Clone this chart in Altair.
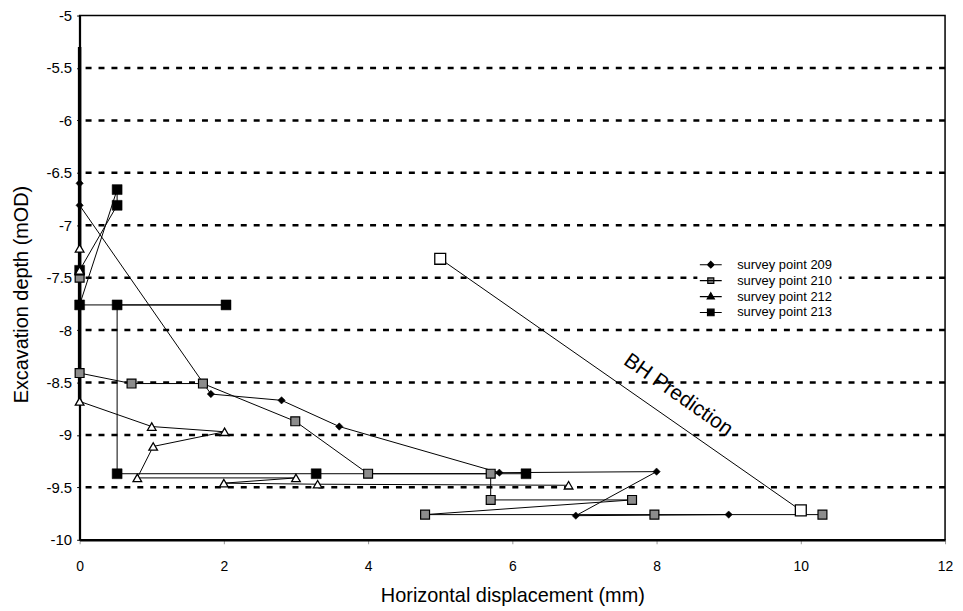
import altair as alt
import pandas as pd

FONT = "Liberation Sans"

names = ["survey point 209", "survey point 210", "survey point 212", "survey point 213"]

# survey point 209 (filled diamonds)
s209_x = [0, 0, 1.82, 2.8, 3.6, 5.82, 8.0, 6.88, 9.0]
s209_y = [-6.6, -6.81, -8.61, -8.67, -8.92, -9.36, -9.35, -9.77, -9.76]

# survey point 210 (hatched squares)
s210_x = [0, 0, 0.72, 1.71, 2.99, 4.0, 5.7, 5.7, 7.66, 4.79, 7.97, 10.3]
s210_y = [-7.5, -8.41, -8.51, -8.51, -8.87, -9.37, -9.37, -9.62, -9.62, -9.76, -9.76, -9.76]

# survey point 212 (open triangles)
s212_x = [0, 0, 0, 1.0, 2.01, 1.02, 0.8, 3.0, 2.0, 3.3, 6.78]
s212_y = [-7.22, -7.43, -8.68, -8.92, -8.97, -9.11, -9.41, -9.41, -9.46, -9.47, -9.48]

# survey point 213 (filled squares)
s213_x = [0, 0.52, 0.52, 0, 2.03, 0.52, 0.52, 3.28, 6.19]
s213_y = [-7.43, -6.81, -6.66, -7.76, -7.76, -7.76, -9.37, -9.37, -9.37]

# BH prediction
bh_x = [5.0, 10.0]
bh_y = [-7.32, -9.72]
bh_label = "BH Prediction"
bh_label_x = 8.3
bh_label_y = -8.62

# readings lying on the zero-displacement axis
zero_trace_y = [-5.3, -8.7]

grid_levels = [-5.5, -6, -6.5, -7, -7.5, -8, -8.5, -9, -9.5]
y_ticks = [-5, -5.5, -6, -6.5, -7, -7.5, -8, -8.5, -9, -9.5, -10]
x_ticks = [0, 2, 4, 6, 8, 10, 12]

rows = []
for name, xs_, ys_ in [
    ("survey point 209", s209_x, s209_y),
    ("survey point 210", s210_x, s210_y),
    ("survey point 212", s212_x, s212_y),
    ("survey point 213", s213_x, s213_y),
    ("BH", bh_x, bh_y),
]:
    for i, (xv, yv) in enumerate(zip(xs_, ys_)):
        rows.append({"series": name, "i": i, "x": xv, "y": yv})
df = pd.DataFrame(rows)

xs = alt.Scale(domain=[0, 12], nice=False, zero=False)
ys = alt.Scale(domain=[-10, -5], nice=False, zero=False)

X = alt.X("x:Q", scale=xs, axis=alt.Axis(
    values=x_ticks, format="d", title="Horizontal displacement (mm)", grid=False,
    labelFontSize=14, labelFont=FONT, labelColor="black", labelFlush=False,
    labelPadding=16, tickSize=4, tickColor="#999", domainColor="black", domainWidth=2.5,
    titleFont=FONT, titleFontSize=20, titleFontWeight="normal", titleColor="black",
    titleY=56, titleBaseline="middle"))
Y = alt.Y("y:Q", scale=ys, axis=alt.Axis(
    values=y_ticks, title="Excavation depth (mOD)", grid=False,
    labelExpr="datum.value < 0 ? '-' + format(-datum.value, '~g') : format(datum.value, '~g')",
    labelFontSize=15, labelFont=FONT, labelColor="black", labelFlush=False,
    labelPadding=5, tickSize=3, tickColor="black", domainColor="black", domainWidth=2,
    titleFont=FONT, titleFontSize=20, titleFontWeight="normal", titleColor="black",
    titleAngle=270, titleX=-58, titleY=280, titleBaseline="middle"))

base = alt.Chart(df)

grid = alt.Chart(pd.DataFrame({"y": grid_levels})).mark_rule(
    color="black", strokeWidth=2.5, strokeDash=[6, 7]
).encode(y=alt.Y("y:Q", scale=ys))

zero_trace = alt.Chart(pd.DataFrame({"x": [0], "y": [zero_trace_y[0]], "y2": [zero_trace_y[1]]})).mark_rule(
    color="black", strokeWidth=3.5
).encode(x=alt.X("x:Q", scale=xs), y=alt.Y("y:Q", scale=ys), y2="y2:Q")

lines = base.mark_line(color="black", strokeWidth=1).encode(
    x=X, y=Y, detail="series:N", order="i:Q")

def pts(name, **kw):
    return base.transform_filter(alt.datum.series == name).mark_point(opacity=1, **kw).encode(
        x=alt.X("x:Q", scale=xs), y=alt.Y("y:Q", scale=ys))

p209 = pts("survey point 209", shape="diamond", size=55, filled=True, fill="black", stroke="black", strokeWidth=0.5)
p210 = pts("survey point 210", shape="square", size=80, filled=True, fill="#8c8c8c", stroke="black", strokeWidth=1.2)
p213 = pts("survey point 213", shape="square", size=100, filled=True, fill="black", stroke="black", strokeWidth=0.5)
p212 = pts("survey point 212", shape="triangle-up", size=75, filled=True, fill="white", stroke="black", strokeWidth=1.3)
pbh = pts("BH", shape="square", size=120, filled=True, fill="white", stroke="black", strokeWidth=1.3)

label = alt.Chart(pd.DataFrame({"x": [bh_label_x], "y": [bh_label_y], "t": [bh_label]})).mark_text(
    angle=35, fontSize=21, font=FONT, color="black", align="center", baseline="middle"
).encode(x=alt.X("x:Q", scale=xs), y=alt.Y("y:Q", scale=ys), text="t:N")

legend_paths = [
    "M-2,0H2M0,-0.6L0.6,0L0,0.6L-0.6,0Z",
    "M-2,0H2M-0.55,-0.5H0.55V0.5H-0.55Z",
    "M-2,0H2M0,-0.7L0.65,0.45H-0.65Z",
    "M-2,0H2M-0.6,-0.6H0.6V0.6H-0.6Z",
]
legend_fills = ["black", "#8c8c8c", "black", "black"]
lg = alt.Legend(title=None, orient="none", legendX=621, legendY=237, padding=7,
                fillColor="white",
                labelFont=FONT, labelFontSize=13, labelColor="black", labelOffset=20,
                symbolSize=121, symbolStrokeWidth=1.2, rowPadding=2)
legend_layer = base.transform_filter("false").mark_point(filled=True, opacity=1).encode(
    shape=alt.Shape("series:N", scale=alt.Scale(domain=names, range=legend_paths), legend=lg),
    fill=alt.Fill("series:N", scale=alt.Scale(domain=names, range=legend_fills), legend=lg),
    stroke=alt.Stroke("series:N", scale=alt.Scale(domain=names, range=["black"] * 4), legend=lg),
)

chart = alt.layer(
    grid, zero_trace, lines, p209, p210, p213, p212, pbh, label, legend_layer
).properties(
    width=870, height=527,
    autosize=alt.AutoSizeParams(type="none"),
    padding={"left": 72, "top": 6, "right": 10, "bottom": 68},
    background="white",
).configure_view(stroke="black", strokeWidth=1.5)

chart.save("out.html", embed_options={"renderer": "svg", "actions": False})
